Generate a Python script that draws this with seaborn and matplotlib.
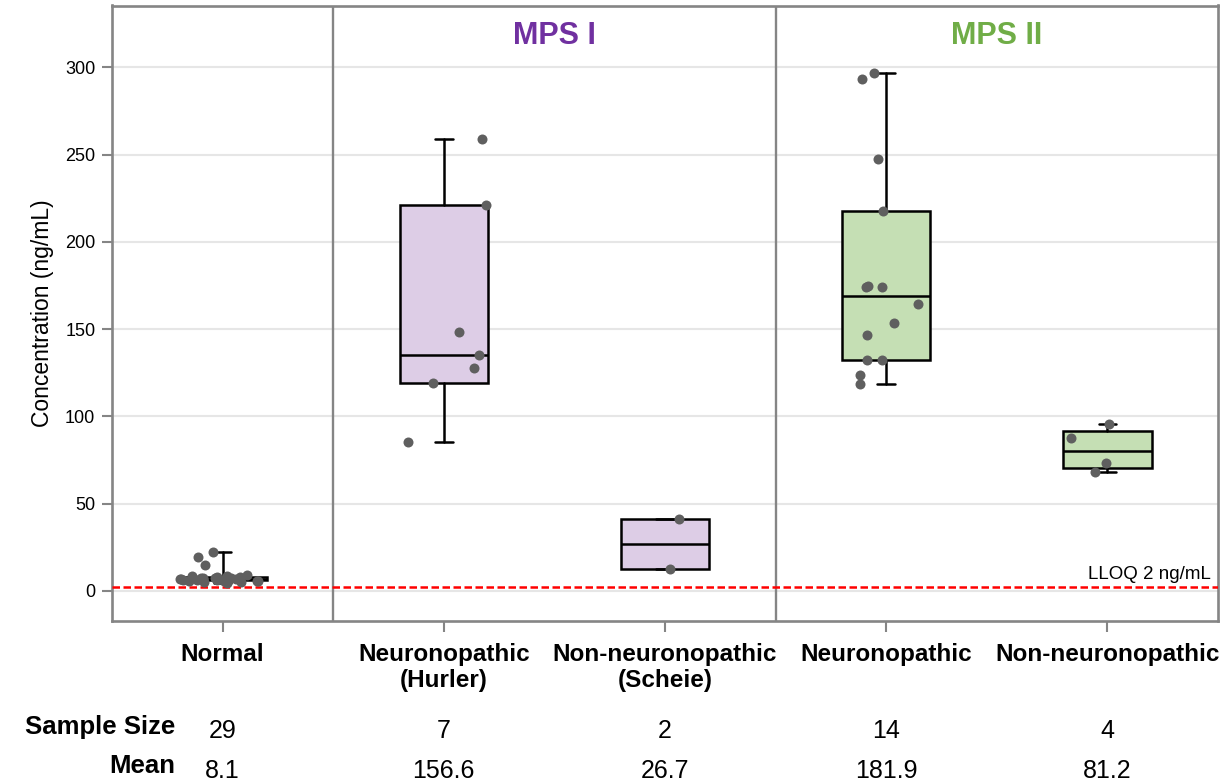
import numpy as np
import pandas as pd
import matplotlib.pyplot as plt
import matplotlib.transforms as mtransforms
import seaborn as sns

# --- data ---
group_labels = ["Normal", "Neuronopathic\n(Hurler)", "Non-neuronopathic\n(Scheie)",
                "Neuronopathic", "Non-neuronopathic"]
normal = [4.6, 5.0, 5.2, 5.5, 5.8, 6.0, 6.0, 6.2, 6.4, 6.5, 6.6, 6.8, 7.0, 7.0, 7.1,
          7.3, 7.1, 7.2, 7.4, 7.6, 7.7, 7.9, 8.1, 8.4, 8.6, 8.9, 15.0, 19.7, 22.3]
mps1_hurler = [259.0, 221.0, 148.5, 135.0, 128.0, 119.0, 85.5]
mps1_scheie = [41.0, 12.4]
mps2_neuro = [296.7, 293.4, 247.8, 218.0, 174.0, 174.6, 174.0, 164.3, 153.6,
              146.7, 132.2, 132.2, 123.6, 118.5]
mps2_non = [95.8, 87.8, 73.2, 68.0]
sample_sizes = ["29", "7", "2", "14", "4"]
means = ["8.1", "156.6", "26.7", "181.9", "81.2"]
lloq = 2

all_groups = [normal, mps1_hurler, mps1_scheie, mps2_neuro, mps2_non]
keys = ["g0", "g1", "g2", "g3", "g4"]
df = pd.DataFrame({
    "group": [k for k, vals in zip(keys, all_groups) for _ in vals],
    "value": [v for vals in all_groups for v in vals],
})

box_fills = ["white", "#ddcde6", "#ddcde6", "#c5dfb4", "#c5dfb4"]
frame_col = "#858585"

sns.set_theme(style="white")
plt.rcParams["font.family"] = ["Liberation Sans", "DejaVu Sans"]
plt.rcParams.update({"text.color": "black", "axes.labelcolor": "black",
                     "xtick.color": "black", "ytick.color": "black"})

fig, ax = plt.subplots(figsize=(12.2, 7.82), dpi=100)
fig.subplots_adjust(left=112 / 1220, right=1218 / 1220, top=1 - 5.5 / 782, bottom=1 - 621 / 782)

np.random.seed(3)
sns.stripplot(data=df, x="group", y="value", order=keys, color="#5f5f5f", size=7.2,
              jitter=0.2, linewidth=0, ax=ax, zorder=4)


def box_stats(vals):
    v = np.asarray(vals)
    q1, med, q3 = np.percentile(v, [25, 50, 75], method="averaged_inverted_cdf")
    return dict(med=med, q1=q1, q3=q3, whislo=v.min(), whishi=v.max(), fliers=[])


stats = [box_stats(g) for g in all_groups]
lw = 1.8
bp = ax.bxp(stats, positions=range(len(stats)), widths=0.4, capwidths=0.08,
            patch_artist=True, showfliers=False, manage_ticks=False, zorder=3,
            boxprops=dict(edgecolor="black", linewidth=lw),
            medianprops=dict(color="black", linewidth=lw),
            whiskerprops=dict(color="black", linewidth=lw),
            capprops=dict(color="black", linewidth=lw))
for patch, fc in zip(bp["boxes"], box_fills):
    patch.set_facecolor(fc)

# LLOQ line
ax.axhline(lloq, color="#ff0000", ls="--", lw=1.8, dashes=(3, 1.4), zorder=3.5)
ax.text(4.47, 7, "LLOQ 2 ng/mL", ha="right", va="baseline", fontsize=13.5)

# panel separators and headers
ax.axvline(0.5, color=frame_col, lw=1.7, zorder=2)
ax.axvline(2.5, color=frame_col, lw=1.7, zorder=2)
hdr = mtransforms.blended_transform_factory(ax.transData, ax.transAxes)
ax.text(1.5, 0.951, "MPS I", transform=hdr, ha="center", va="center",
        fontsize=22, fontweight="bold", color="#7030a0")
ax.text(3.5, 0.951, "MPS II", transform=hdr, ha="center", va="center",
        fontsize=22, fontweight="bold", color="#70ad47")

ax.set_xlim(-0.5, 4.5)
ax.set_ylim(-17.2, 335.5)
ax.set_yticks([0, 50, 100, 150, 200, 250, 300])
ax.yaxis.grid(True, color="#e6e6e6", lw=1.5)
ax.xaxis.grid(False)
ax.set_axisbelow(True)

ax.set_xticks(range(5))
ax.set_xticklabels(group_labels, fontsize=17.5, fontweight="bold", linespacing=1.15)
ax.set_xlabel("")
ax.set_ylabel("Concentration (ng/mL)", fontsize=16.5, labelpad=8)
ax.tick_params(axis="y", labelsize=13, length=7, width=1.5, color=frame_col, pad=5, left=True)
ax.tick_params(axis="x", length=8, width=1.5, color=frame_col, pad=8, bottom=True)

for sp in ax.spines.values():
    sp.set_visible(True)
    sp.set_color(frame_col)
    sp.set_linewidth(1.9)

# summary rows beneath the axis
row = mtransforms.blended_transform_factory(ax.transData, fig.transFigure)
fig.text(175 / 1220, 1 - 727 / 782, "Sample Size", ha="right", va="center",
         fontsize=18.5, fontweight="bold")
fig.text(175 / 1220, 1 - 766 / 782, "Mean", ha="right", va="center",
         fontsize=18.5, fontweight="bold")
for i, (n, m) in enumerate(zip(sample_sizes, means)):
    ax.text(i, 1 - 731 / 782, n, transform=row, ha="center", va="center", fontsize=18)
    ax.text(i, 1 - 771 / 782, m, transform=row, ha="center", va="center", fontsize=18)

fig.savefig("out.png", dpi=100)
